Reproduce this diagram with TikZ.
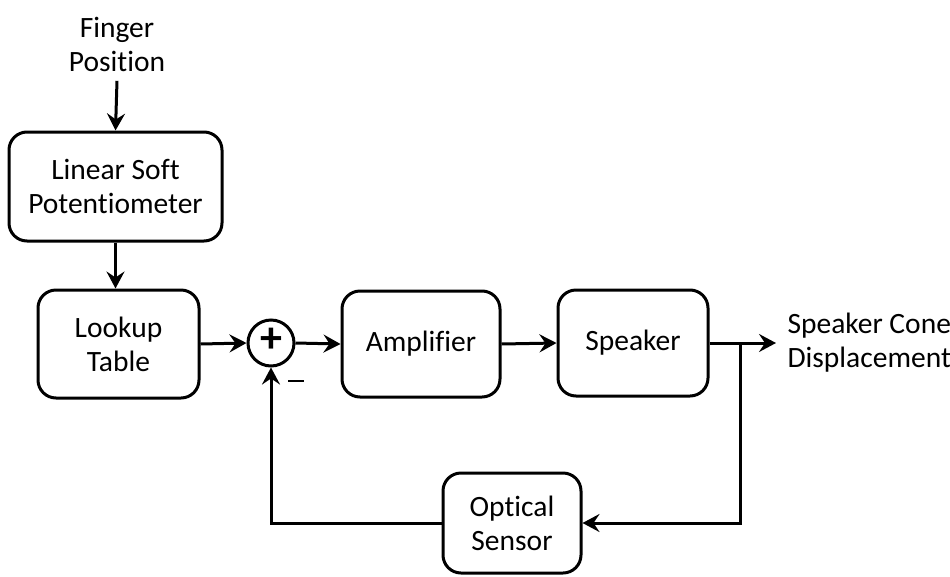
\documentclass[tikz,border=0pt]{standalone}
\usepackage{fontspec}
\setmainfont[Ligatures={NoCommon}]{Carlito}
\usetikzlibrary{arrows.meta}
\begin{document}
\begin{tikzpicture}[x=1pt,y=-1pt,
  every node/.style={font=\fontsize{29.5}{34}\selectfont, align=center},
  blk/.style={draw, line width=3pt, rounded corners=18pt, inner sep=0pt},
  conn/.style={line width=3pt, -{Stealth[length=17pt,width=18pt,inset=6pt]}},
  line/.style={line width=3pt}]
\useasboundingbox (0,0) rectangle (950,576);
\node (fp) at (117,44) {Finger\\Position};
\node[blk, minimum width=213pt, minimum height=109pt] (pot) at (115.5,186.5) {Linear Soft\\Potentiometer};
\node[blk, minimum width=161pt, minimum height=108pt] (lut) at (118.5,344) {Lookup\\Table};
\node[draw, circle, line width=3pt, minimum size=46pt, inner sep=0pt] (sum) at (271,343) {};
\node[font=\fontsize{44}{44}\selectfont\bfseries] at (271,340) {+};
\node (minus) at (296,381) {\rule{16pt}{2.5pt}};
\node[blk, minimum width=158pt, minimum height=106pt] (amp) at (421,344) {Amplifier};
\node[blk, minimum width=150pt, minimum height=106pt] (spk) at (633,343) {Speaker};
\node[blk, minimum width=138pt, minimum height=100pt] (sen) at (512,523) {Optical\\Sensor};
\node[anchor=west, align=left] (out) at (784,343) {Speaker Cone\\Displacement};
\coordinate (br) at (740,343);
\draw[conn] ([yshift=-6pt]fp.south) -- (pot.north);
\draw[conn] (pot.south) -- (lut.north -| pot.south);
\draw[conn] (lut.east) -- (sum.west);
\draw[conn] (sum.east) -- (amp.west);
\draw[conn] (amp.east) -- (spk.west);
\draw[conn] (spk.east) -- ([xshift=-8pt]out.west);
\draw[conn] (br) |- (sen.east);
\draw[conn] (sen.west) -| (sum.south);
\end{tikzpicture}
\end{document}
